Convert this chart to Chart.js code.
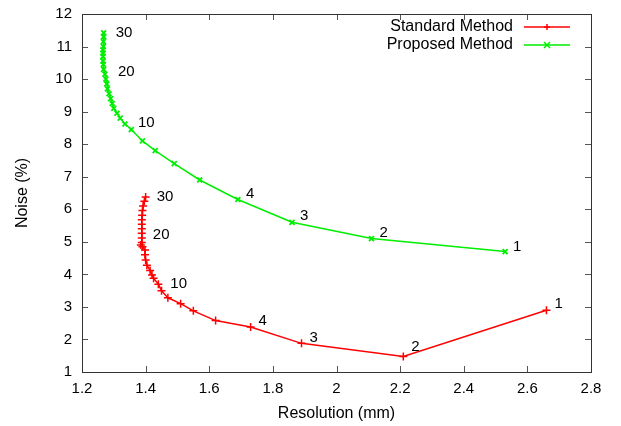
<!DOCTYPE html>
<html>
<head>
<meta charset="utf-8">
<script src="https://cdn.jsdelivr.net/npm/chart.js@4/dist/chart.umd.min.js"></script>
<style>
  body { margin: 0; background: #fff; }
  canvas { display: block; }
</style>
</head>
<body>
<canvas id="graph" width="621" height="426"></canvas>
<script>
// iteration 1..30, resolution (mm) and noise (%)
const stdResolution = [2.66, 2.21, 1.89, 1.73, 1.62, 1.55, 1.51, 1.47, 1.45, 1.44,
  1.425, 1.42, 1.414, 1.404, 1.40, 1.398, 1.398, 1.39, 1.385, 1.388,
  1.388, 1.388, 1.388, 1.388, 1.388, 1.389, 1.39, 1.392, 1.396, 1.40]
const stdNoise = [2.9, 1.48, 1.88, 2.38, 2.58, 2.88, 3.1, 3.28, 3.5, 3.7,
  3.88, 3.98, 4.12, 4.28, 4.44, 4.6, 4.75, 4.85, 4.9, 4.98,
  5.12, 5.26, 5.4, 5.54, 5.68, 5.82, 5.96, 6.1, 6.25, 6.38]
const propResolution = [2.53, 2.11, 1.86, 1.69, 1.57, 1.49, 1.43, 1.39, 1.355, 1.335,
  1.32, 1.31, 1.30, 1.295, 1.29, 1.285, 1.28, 1.278, 1.275, 1.272,
  1.268, 1.267, 1.266, 1.266, 1.266, 1.266, 1.267, 1.267, 1.268, 1.268]
const propNoise = [4.7, 5.1, 5.6, 6.3, 6.9, 7.4, 7.8, 8.1, 8.45, 8.62,
  8.8, 8.95, 9.1, 9.25, 9.4, 9.55, 9.7, 9.85, 10.0, 10.15,
  10.3, 10.45, 10.55, 10.7, 10.8, 10.9, 11.0, 11.15, 11.3, 11.42]
const labelIndex = [0, 1, 2, 3, 9, 19, 29]
const labelText = ['1', '2', '3', '4', '10', '20', '30']
const xTicks = [1.2, 1.4, 1.6, 1.8, 2, 2.2, 2.4, 2.6, 2.8]
const yTicks = [1, 2, 3, 4, 5, 6, 7, 8, 9, 10, 11, 12]

const FONT = 'Liberation Sans, Arial, Helvetica, sans-serif'

function toPoints(xs, ys) {
  return xs.map((x, i) => ({x: x, y: ys[i]}))
}

// gnuplot style frame with inward ticks on all four sides
const framePlugin = {
  id: 'frame',
  beforeDatasetsDraw(chart) {
    const ctx = chart.ctx
    const a = chart.chartArea
    const xs = chart.scales.x, ys = chart.scales.y
    ctx.save()
    ctx.strokeStyle = '#555'
    ctx.lineWidth = 1
    ctx.beginPath()
    xTicks.forEach(v => {
      const p = Math.round(xs.getPixelForValue(v)) + 0.5
      ctx.moveTo(p, a.bottom); ctx.lineTo(p, a.bottom - 6)
      ctx.moveTo(p, a.top); ctx.lineTo(p, a.top + 6)
    })
    yTicks.forEach(v => {
      const p = Math.round(ys.getPixelForValue(v)) + 0.5
      ctx.moveTo(a.left, p); ctx.lineTo(a.left + 6, p)
      ctx.moveTo(a.right, p); ctx.lineTo(a.right - 6, p)
    })
    ctx.stroke()
    ctx.strokeStyle = '#333'
    ctx.strokeRect(Math.round(a.left) + 0.5, Math.round(a.top) + 0.5,
      Math.round(a.right - a.left), Math.round(a.bottom - a.top))
    ctx.restore()
  }
}

// iteration labels next to points + gnuplot style legend
const annotatePlugin = {
  id: 'annotate',
  afterDatasetsDraw(chart, args, opts) {
    const ctx = chart.ctx
    ctx.save()
    ctx.fillStyle = '#000'
    ctx.font = '15px ' + FONT
    ctx.textAlign = 'left'
    ctx.textBaseline = 'middle'
    chart.data.datasets.forEach((ds, di) => {
      const meta = chart.getDatasetMeta(di)
      const offs = opts.offsets[di]
      labelIndex.forEach((idx, k) => {
        const el = meta.data[idx]
        ctx.fillText(labelText[k], el.x + offs[k][0], el.y + offs[k][1])
      })
    })

    // legend, text right aligned, sample on the right
    const a = chart.chartArea
    ctx.font = '16px ' + FONT
    ctx.textAlign = 'right'
    chart.data.datasets.forEach((ds, di) => {
      const y = a.top + 13 + di * 18
      const x1 = a.right - 67, x2 = a.right - 21
      ctx.fillText(ds.label, x1 - 11, y)
      ctx.strokeStyle = ds.borderColor
      ctx.lineWidth = 1.5
      ctx.beginPath()
      ctx.moveTo(x1, y); ctx.lineTo(x2, y)
      ctx.stroke()
      const mx = (x1 + x2) / 2, r = 3
      ctx.beginPath()
      if (ds.pointStyle === 'cross') {
        ctx.moveTo(mx - r, y); ctx.lineTo(mx + r, y)
        ctx.moveTo(mx, y - r); ctx.lineTo(mx, y + r)
      } else {
        ctx.moveTo(mx - r, y - r); ctx.lineTo(mx + r, y + r)
        ctx.moveTo(mx - r, y + r); ctx.lineTo(mx + r, y - r)
      }
      ctx.stroke()
    })
    ctx.restore()
  }
}

const ctx = document.getElementById('graph').getContext('2d')
const graph = new Chart(ctx, {
  type: 'scatter',
  data: {
    datasets: [{
      label: 'Standard Method',
      data: toPoints(stdResolution, stdNoise),
      showLine: true,
      borderColor: '#ff0000',
      backgroundColor: '#ff0000',
      borderWidth: 1.5,
      pointStyle: 'cross',
      pointRadius: 4,
      pointBorderWidth: 1.5
    }, {
      label: 'Proposed Method',
      data: toPoints(propResolution, propNoise),
      showLine: true,
      borderColor: '#00ee00',
      backgroundColor: '#00ee00',
      borderWidth: 1.5,
      pointStyle: 'crossRot',
      pointRadius: 3.5,
      pointBorderWidth: 1.8
    }]
  },
  options: {
    responsive: false,
    animation: false,
    layout: {padding: {top: 14, right: 30, left: 0, bottom: 0}},
    plugins: {
      legend: {display: false},
      tooltip: {enabled: false},
      annotate: {
        offsets: [
          [[8, -6], [8, -10], [8, -6], [8, -6], [12, 0], [11, -8], [11, 0]],
          [[8, -5], [8, -6], [8, -6], [8, -6], [13, -1], [13, -2], [12, 0]]
        ]
      }
    },
    scales: {
      x: {
        type: 'linear',
        min: 1.2, max: 2.8,
        afterBuildTicks: s => { s.ticks = xTicks.map(v => ({value: v})) },
        afterFit: s => { s.height = 54; s.paddingLeft = 0; s.paddingRight = 0 },
        grid: {display: false, drawTicks: false},
        border: {display: false},
        ticks: {
          padding: 8,
          color: '#000',
          font: {family: FONT, size: 15},
          callback: v => String(+v.toFixed(1))
        },
        title: {
          display: true, text: 'Resolution (mm)', color: '#000',
          font: {family: FONT, size: 16},
          padding: {top: 0, bottom: 3}
        }
      },
      y: {
        type: 'linear',
        min: 1, max: 12,
        afterBuildTicks: s => { s.ticks = yTicks.map(v => ({value: v})) },
        afterFit: s => { s.width = 82; s.paddingTop = 0; s.paddingBottom = 0 },
        grid: {display: false, drawTicks: false},
        border: {display: false},
        ticks: {
          padding: 10,
          color: '#000',
          font: {family: FONT, size: 15},
          callback: v => String(v)
        },
        title: {
          display: true, text: 'Noise (%)', color: '#000',
          font: {family: FONT, size: 16},
          padding: {top: 13, bottom: 0}
        }
      }
    }
  },
  plugins: [framePlugin, annotatePlugin]
})
</script>
</body>
</html>
